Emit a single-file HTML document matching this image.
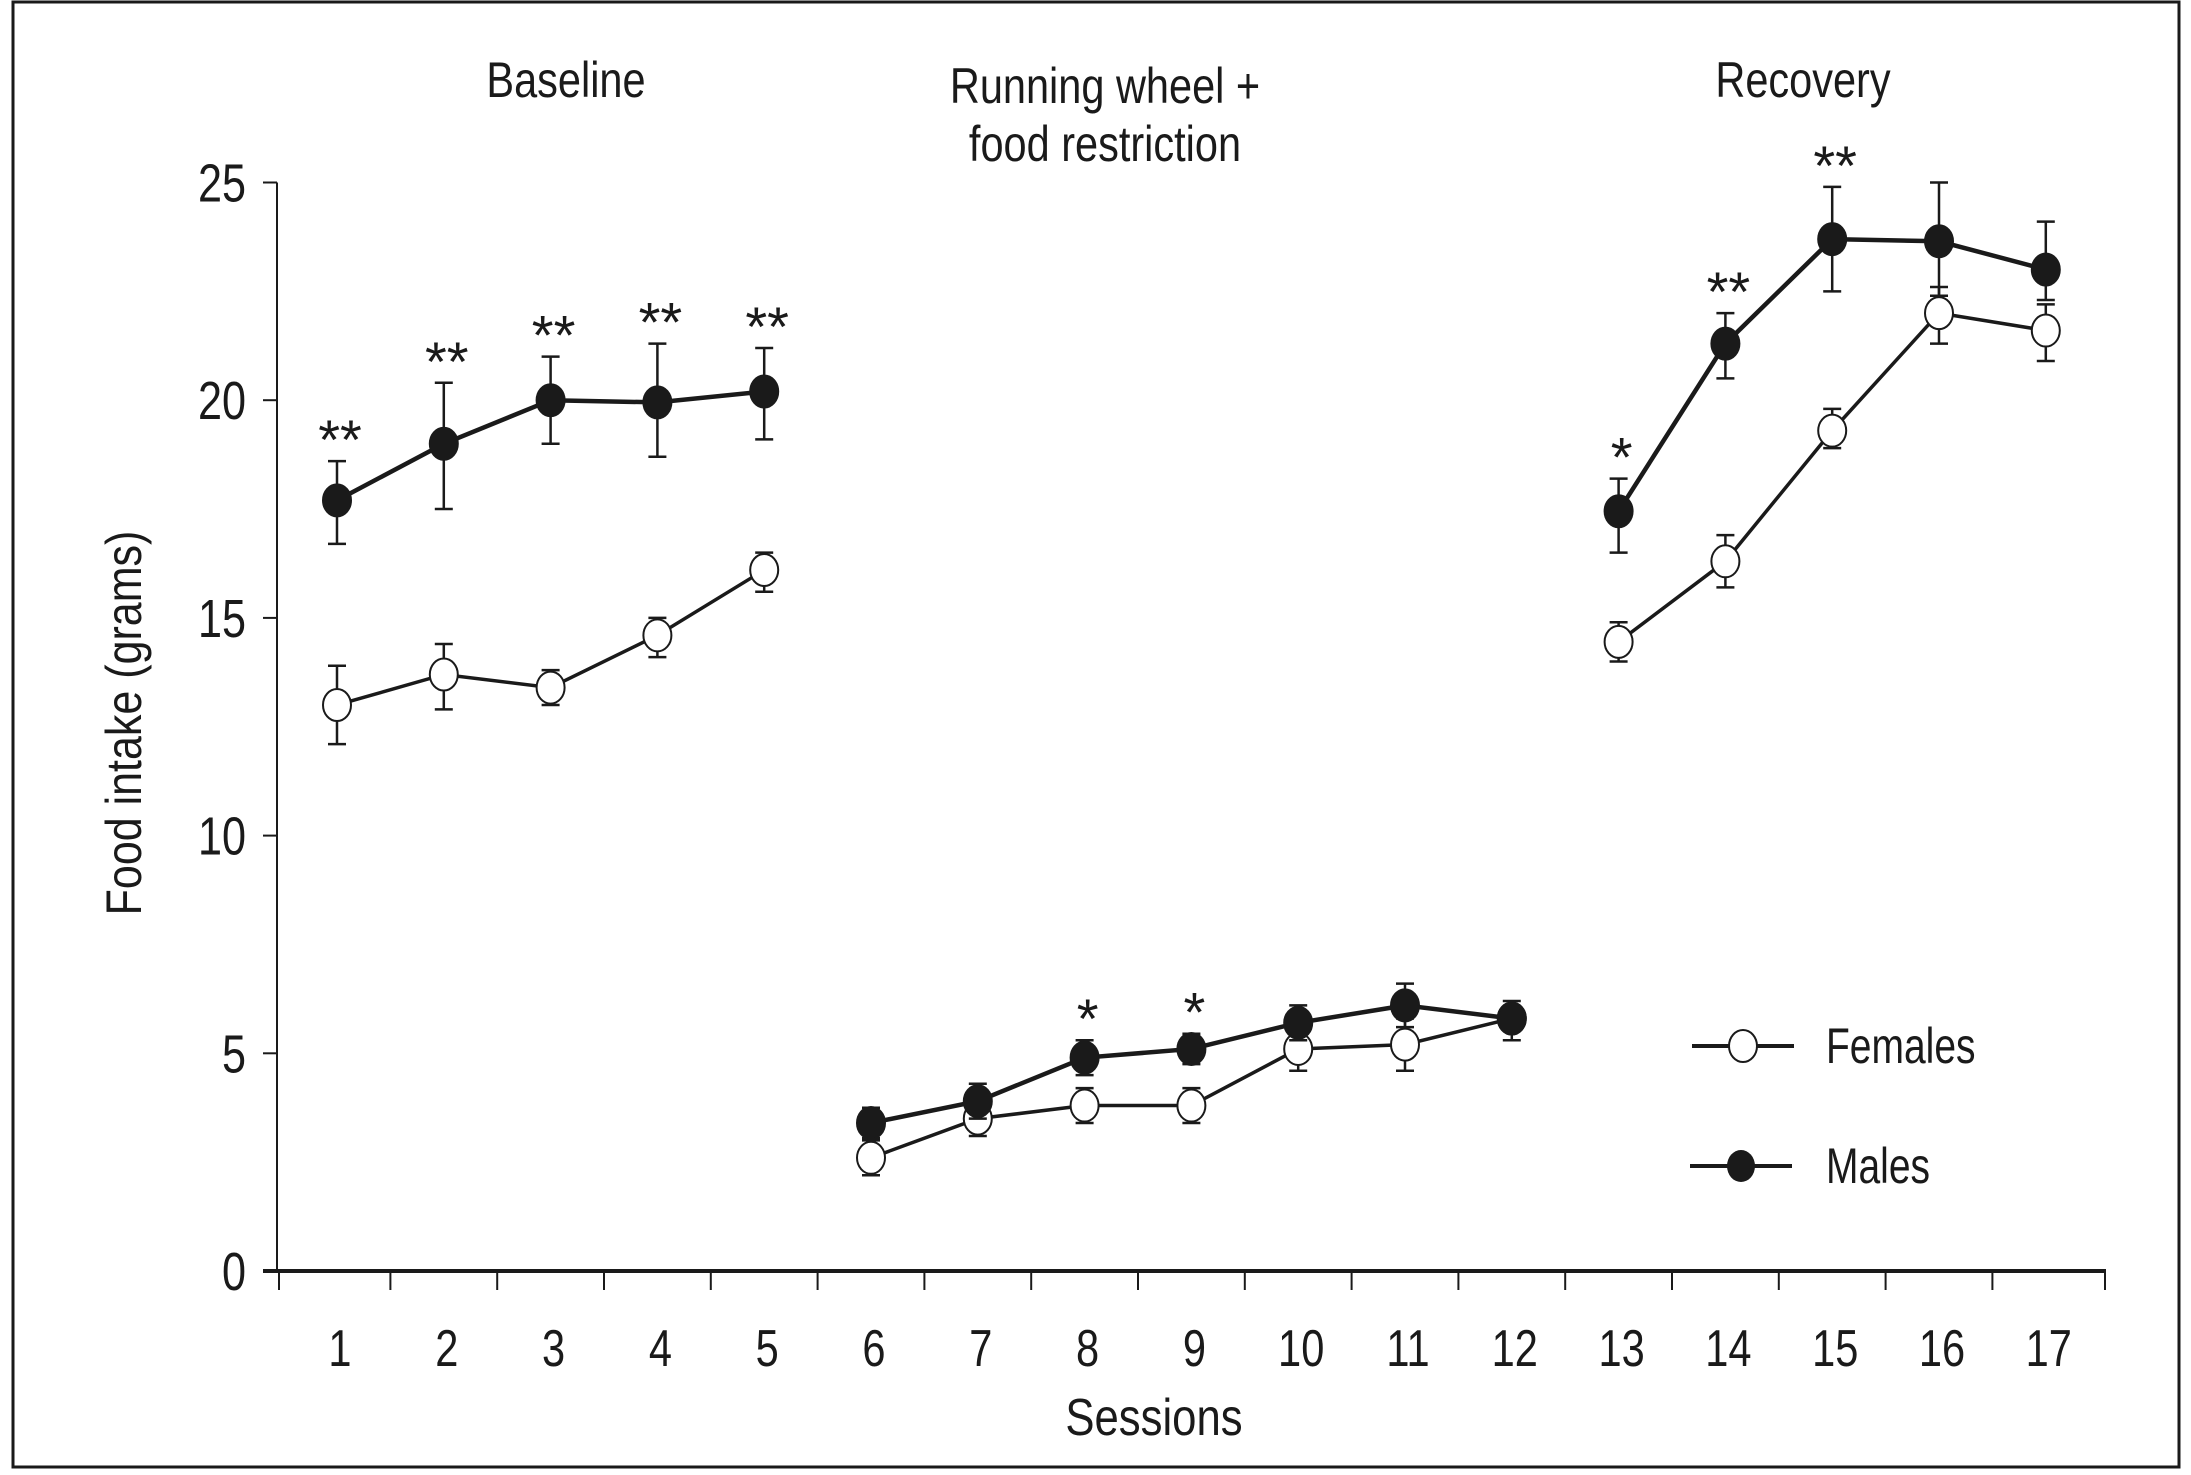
<!DOCTYPE html>
<html><head><meta charset="utf-8"><style>
html,body{margin:0;padding:0;background:#fff;}
svg{display:block;}
text{font-family:"Liberation Sans Narrow","Liberation Sans",sans-serif;fill:#1a1a1a;}
</style></head><body>
<svg id="chart" width="2191" height="1475" viewBox="0 0 2191 1475" xmlns="http://www.w3.org/2000/svg">
<rect x="13" y="2" width="2166" height="1465" fill="none" stroke="#1a1a1a" stroke-width="3"/>
<g id="axes"></g><g id="series"></g>
<text x="566" y="97" font-size="50" text-anchor="middle" transform="translate(566,0) scale(0.83,1) translate(-566,0)">Baseline</text>
<text x="1105" y="103" font-size="50" text-anchor="middle" transform="translate(1105,0) scale(0.83,1) translate(-1105,0)">Running wheel +</text>
<text x="1105" y="161" font-size="50" text-anchor="middle" transform="translate(1105,0) scale(0.83,1) translate(-1105,0)">food restriction</text>
<text x="1803" y="97" font-size="50" text-anchor="middle" transform="translate(1803,0) scale(0.83,1) translate(-1803,0)">Recovery</text>
<text x="0" y="0" font-size="50" text-anchor="middle" transform="translate(141,723) rotate(-90) scale(0.86,1)">Food intake (grams)</text>
<text x="1154" y="1435" font-size="52" text-anchor="middle" transform="translate(1154,0) scale(0.84,1) translate(-1154,0)">Sessions</text>
<g>
<line x1="1692" y1="1046" x2="1794" y2="1046" stroke="#1a1a1a" stroke-width="4"/>
<ellipse cx="1743" cy="1046" rx="14" ry="16" fill="#fff" stroke="#1a1a1a" stroke-width="2"/>
<text x="1826" y="1063" font-size="50" transform="translate(1826,0) scale(0.78,1) translate(-1826,0)">Females</text>
<line x1="1690" y1="1166" x2="1792" y2="1166" stroke="#1a1a1a" stroke-width="4"/>
<ellipse cx="1741" cy="1166" rx="14" ry="16" fill="#1a1a1a"/>
<text x="1826" y="1183" font-size="50" transform="translate(1826,0) scale(0.78,1) translate(-1826,0)">Males</text>
</g>
</svg>
<script>
const sessions=[1,2,3,4,5,6,7,8,9,10,11,12,13,14,15,16,17];
const yTicks=[0,5,10,15,20,25];
const malesMean=[17.7,19.0,20.0,19.95,20.2,3.4,3.9,4.9,5.1,5.7,6.1,5.8,17.45,21.3,23.7,23.65,23.0];
const malesHi=[18.6,20.4,21.0,21.3,21.2,3.75,4.3,5.3,5.45,6.1,6.6,6.2,18.2,22.0,24.9,25.0,24.1];
const malesLo=[16.7,17.5,19.0,18.7,19.1,3.05,3.5,4.5,4.75,5.3,5.6,5.3,16.5,20.5,22.5,22.4,22.3];
const femMean=[13.0,13.7,13.4,14.6,16.1,2.6,3.5,3.8,3.8,5.1,5.2,5.8,14.45,16.3,19.3,22.0,21.6];
const femHi=[13.9,14.4,13.8,15.0,16.5,3.0,3.9,4.2,4.2,5.5,5.8,6.0,14.9,16.9,19.8,22.6,22.2];
const femLo=[12.1,12.9,13.0,14.1,15.6,2.2,3.1,3.4,3.4,4.6,4.6,5.6,14.0,15.7,18.9,21.3,20.9];
const stars=["**","**","**","**","**","","","*","*","","","","*","**","**","",""];
const segments=[[0,5],[5,12],[12,17]];
const NS="http://www.w3.org/2000/svg";
const xs=s=>337+(s-1)*106.8;
const ys=v=>1271-v*43.54;
function mk(tag,attrs,parent){const e=document.createElementNS(NS,tag);for(const k in attrs)e.setAttribute(k,attrs[k]);parent.appendChild(e);return e;}
const ax=document.getElementById('axes');
let l=mk('line',{x1:277,y1:ys(25),x2:277,y2:1271,stroke:'#1a1a1a','stroke-width':2},ax);


l=mk('line',{x1:263,y1:1271,x2:2106,y2:1271,stroke:'#1a1a1a','stroke-width':4},ax);


yTicks.forEach(v=>{
 const t=mk('line',{x1:263,y1:ys(v),x2:277,y2:ys(v),stroke:'#1a1a1a','stroke-width':2},ax);
 
 
 const tx=mk('text',{x:246,y:ys(v)+19,'font-size':54,'text-anchor':'end',transform:`translate(246,0) scale(0.8,1) translate(-246,0)`},ax);
 tx.textContent=v;
 
 
});
for(let i=0;i<=sessions.length;i++){
 const bx=i===0?279:(i===sessions.length?2105:(xs(sessions[i-1])+xs(sessions[i]))/2);
 const t=mk('line',{x1:bx,y1:1271,x2:bx,y2:1290,stroke:'#1a1a1a','stroke-width':2},ax);
 
 
}
sessions.forEach(s=>{
 const x=xs(s)+3;
 const tx=mk('text',{x:x,y:1366,'font-size':52,'text-anchor':'middle',transform:`translate(${x},0) scale(0.8,1) translate(${-x},0)`},ax);
 tx.textContent=s;
 
 
});
const sg=document.getElementById('series');
function drawSeries(name,mean,hi,lo,fill,lw){
 const g=mk('g',{},sg);
 
 
 segments.forEach(([a,b])=>{
  const pts=[];for(let i=a;i<b;i++)pts.push(xs(sessions[i])+','+ys(mean[i]));
  const p=mk('polyline',{points:pts.join(' '),fill:'none',stroke:'#1a1a1a','stroke-width':lw},g);
  
  
 });
 sessions.forEach((s,i)=>{
  const x=xs(s);
  const e=mk('path',{d:`M${x} ${ys(hi[i])}V${ys(lo[i])}M${x-9} ${ys(hi[i])}H${x+9}M${x-9} ${ys(lo[i])}H${x+9}`,stroke:'#1a1a1a','stroke-width':2.5,fill:'none'},g);
  
  
 });
 sessions.forEach((s,i)=>{
  const c=mk('ellipse',{cx:xs(s),cy:ys(mean[i]),rx:14,ry:16,fill:fill,stroke:'#1a1a1a','stroke-width':2},g);
  
  
 });
}
drawSeries('females',femMean,femHi,femLo,'#fff',3.5);
drawSeries('males',malesMean,malesHi,malesLo,'#1a1a1a',4.5);
sessions.forEach((s,i)=>{
 if(!stars[i])return;
 const t=mk('text',{x:xs(s)+3,y:ys(malesHi[i])-2,'font-size':56,'text-anchor':'middle',style:'font-family:"Liberation Sans",sans-serif'},sg);
 t.textContent=stars[i];
 
 
});
</script>
</body></html>
